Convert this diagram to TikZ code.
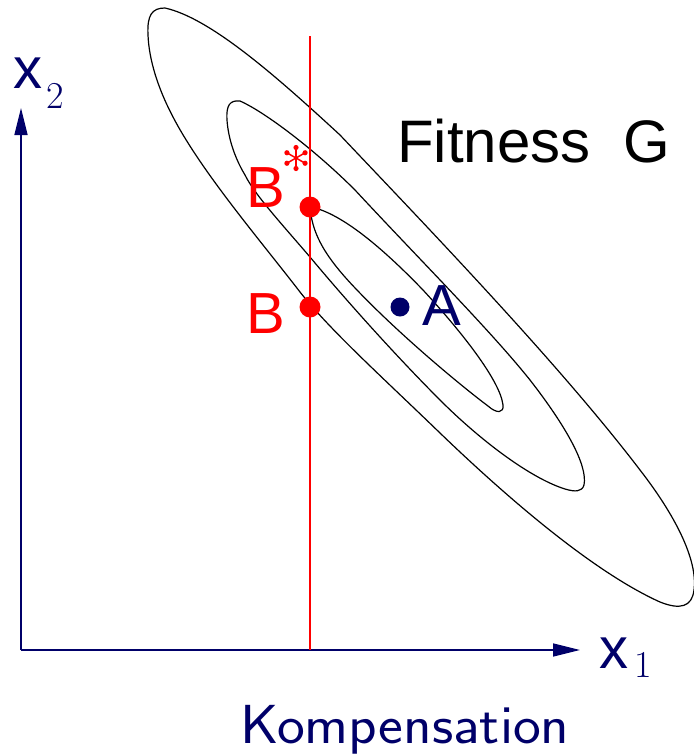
\documentclass[tikz,border=0pt]{standalone}
\usepackage{fontspec}
\newfontfamily\arialf{Liberation Sans}
\usetikzlibrary{arrows.meta}
\definecolor{navy}{RGB}{0,0,105}
\tikzset{
  contour/.style={draw=black, line width=1.2pt},
  axis/.style={draw=navy, line width=1.5pt, -{Triangle[length=27pt,width=13pt]}},
  bigsans/.style={inner sep=0pt, anchor=base west, font=\arialf\fontsize{58}{60}\selectfont},
  subnum/.style={inner sep=0pt, anchor=base west, font=\rmfamily\fontsize{38}{40}\selectfont, text=navy},
  reddot/.style={circle, fill=red, draw=none, minimum size=21pt, inner sep=0pt},
}
\begin{document}
\begin{tikzpicture}[x=1pt, y=-1pt]
\useasboundingbox (0,0) rectangle (694,756);
% outer contour
\draw[contour] (148,35) .. controls (147,15) and (152,8) .. (165,8)
  .. controls (210,18) and (275,75) .. (340,135)
  .. controls (430,230) and (560,365) .. (640,470)
  .. controls (675,515) and (698,560) .. (694,590)
  .. controls (692,607) and (680,610) .. (660,602)
  .. controls (600,575) and (520,510) .. (440,433)
  .. controls (380,375) and (330,330) .. (300,292)
  .. controls (260,240) and (200,170) .. (172,115)
  .. controls (158,88) and (149,60) .. (148,35) -- cycle;
% middle contour
\draw[contour] (227,120) .. controls (226,105) and (230,100) .. (240,101)
  .. controls (265,112) and (315,150) .. (355,190)
  .. controls (420,260) and (490,330) .. (530,380)
  .. controls (565,425) and (588,465) .. (584,485)
  .. controls (582,492) and (575,492) .. (565,489)
  .. controls (530,478) and (480,440) .. (440,400)
  .. controls (400,360) and (350,305) .. (310,257)
  .. controls (280,222) and (255,195) .. (245,175)
  .. controls (233,155) and (228,135) .. (227,120) -- cycle;
% inner contour
\draw[contour] (311,207) .. controls (335,212) and (370,235) .. (423,290)
  .. controls (460,330) and (500,380) .. (503,405)
  .. controls (504,413) and (497,414) .. (488,406)
  .. controls (460,385) and (400,335) .. (357,290)
  .. controls (330,262) and (315,240) .. (311,215) -- cycle;
% axes
\coordinate (O) at (21,650);
\coordinate (Y) at (21,108);
\coordinate (X) at (580,650);
\draw[axis] (O) -- (Y);
\draw[axis] (O) -- (X);
\node[bigsans, text=navy] (x2) at (13,88) {x};
\node[subnum] (s2) at (46,108) {2};
\node[bigsans, text=navy] (x1) at (599,668) {x};
\node[subnum] (s1) at (634,677) {1};
% compensation line
\coordinate (Ltop) at (310,36);
\coordinate (Lbot) at (310,650);
\draw[red, line width=1.6pt] (Ltop) -- (Lbot);
\node[reddot] (Bs) at (310,207) {};
\node[reddot] (B) at (310,307) {};
\node[bigsans, text=red] (Bslab) at (246,207) {B};
\node[bigsans, text=red] (Blab) at (246,333) {B};
% star
\coordinate (st) at (296,158);
\foreach \a in {30,90,150,210,270,330}{
  \draw[red, line width=1.5pt] (st) -- ++(\a:10.5);
  \fill[red] (st) ++(\a:10.5) circle (2.6pt);
}
% A
\node[circle, fill=navy, minimum size=19pt, inner sep=0pt] (A) at (400,307) {};
\node[bigsans, text=navy] (Alab) at (422,325) {A};
% labels
\node[bigsans, text=black, font=\arialf\fontsize{60}{62}\selectfont] (fit) at (397,162) {Fitness~~G};
\node[inner sep=0pt, anchor=base west, font=\sffamily\fontsize{55}{57}\selectfont, text=navy] (komp) at (240,743) {\scalebox{1.073}[1]{Kompensation}};
\end{tikzpicture}
\end{document}
